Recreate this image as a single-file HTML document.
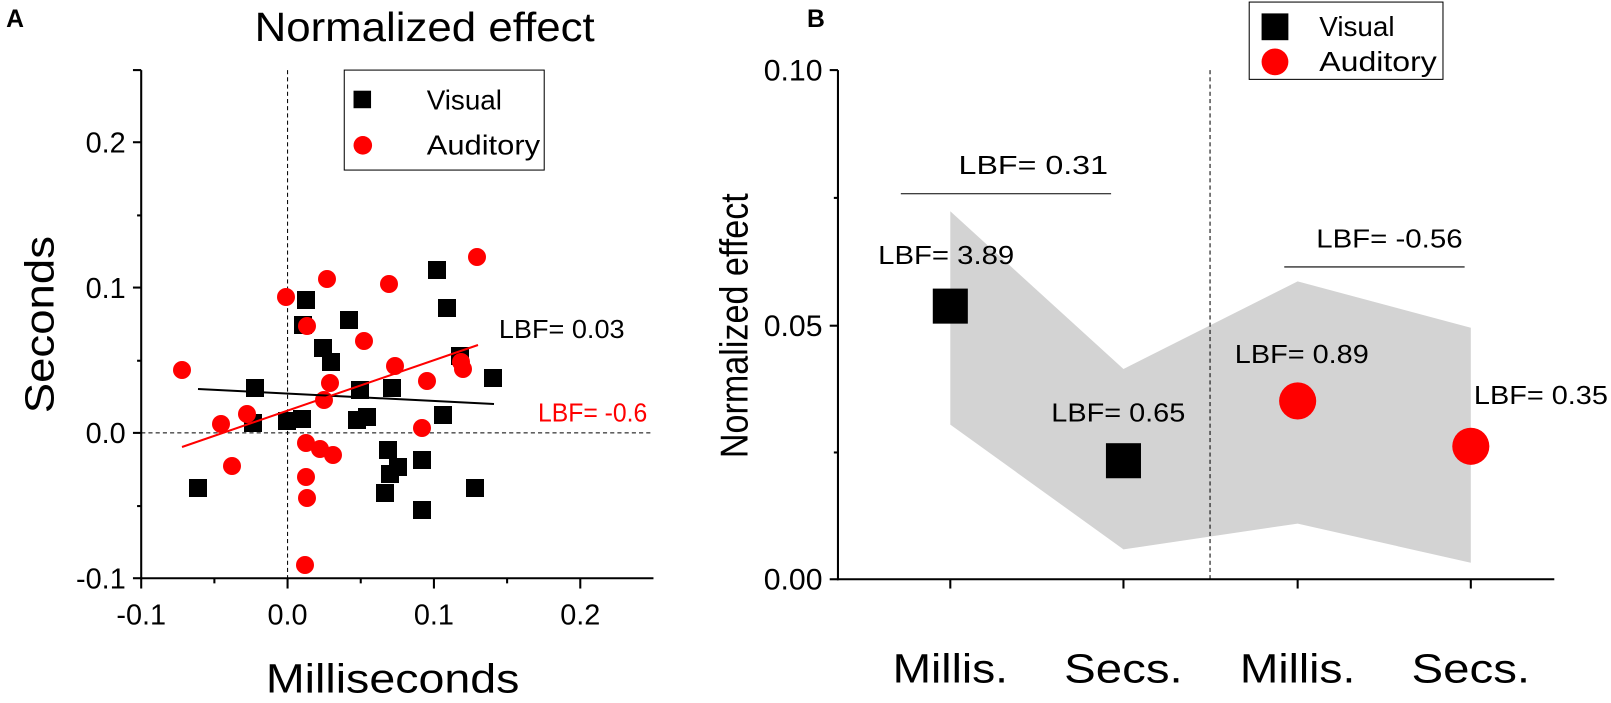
<!DOCTYPE html><html><head><style>body{margin:0;background:#fff}svg{display:block}text{font-family:"Liberation Sans",Arial,sans-serif}</style></head><body>
<svg width="1611" height="703" viewBox="0 0 1611 703">
<g transform="scale(1.0307)">
<text x="6" y="26" font-size="24" font-weight="bold">A</text>
<text x="783" y="26" font-size="24" font-weight="bold">B</text>
<text x="412" y="40" font-size="40" text-anchor="middle" textLength="330" lengthAdjust="spacingAndGlyphs">Normalized effect</text>
<g stroke="#000" stroke-width="2" fill="none">
<line x1="137" y1="68" x2="137" y2="562"/><line x1="136" y1="561" x2="634" y2="561"/>
<line x1="137" y1="68" x2="129" y2="68"/>
<line x1="137" y1="138" x2="129" y2="138"/><line x1="137" y1="279" x2="129" y2="279"/><line x1="137" y1="420" x2="129" y2="420"/><line x1="137" y1="561" x2="129" y2="561"/>
<line x1="137" y1="209" x2="133" y2="209"/><line x1="137" y1="350" x2="133" y2="350"/><line x1="137" y1="491" x2="133" y2="491"/>
<line x1="137" y1="561" x2="137" y2="571"/><line x1="279" y1="561" x2="279" y2="571"/><line x1="421" y1="561" x2="421" y2="571"/><line x1="563" y1="561" x2="563" y2="571"/>
<line x1="208" y1="561" x2="208" y2="566"/><line x1="350" y1="561" x2="350" y2="566"/><line x1="492" y1="561" x2="492" y2="566"/>
</g>
<g stroke="#000" stroke-width="1" stroke-dasharray="4,3"><line x1="279" y1="68" x2="279" y2="561"/><line x1="137" y1="420" x2="634" y2="420"/></g>
<g font-size="28" text-anchor="end"><text x="122" y="148">0.2</text><text x="122" y="289">0.1</text><text x="122" y="430">0.0</text><text x="122" y="571">-0.1</text></g>
<g font-size="28" text-anchor="middle"><text x="137" y="606">-0.1</text><text x="279" y="606">0.0</text><text x="421" y="606">0.1</text><text x="563" y="606">0.2</text></g>
<text x="381" y="672" font-size="40" text-anchor="middle" textLength="246" lengthAdjust="spacingAndGlyphs">Milliseconds</text>
<text transform="translate(52,315) rotate(-90)" font-size="40" text-anchor="middle" textLength="172" lengthAdjust="spacingAndGlyphs">Seconds</text>
<rect x="334" y="68" width="194" height="97" fill="#fff" stroke="#000" stroke-width="1"/>
<rect x="343" y="88" width="17" height="17"/><text x="414" y="106" font-size="27">Visual</text>
<circle cx="352" cy="141" r="9" fill="red"/><text x="414" y="150" font-size="27" textLength="110" lengthAdjust="spacingAndGlyphs">Auditory</text>
<text x="484" y="328" font-size="25" textLength="122" lengthAdjust="spacingAndGlyphs">LBF= 0.03</text>
<text x="522" y="409" font-size="25" fill="red" textLength="106" lengthAdjust="spacingAndGlyphs">LBF= -0.6</text>
<polygon points="922,205 1090,358 1259,273 1427,318 1427,546 1259,508 1090,533 922,412" fill="#d3d3d3"/>
<g stroke="#000" stroke-width="2" fill="none">
<line x1="813" y1="68" x2="813" y2="563"/><line x1="812" y1="562" x2="1508" y2="562"/>
<line x1="813" y1="68" x2="805" y2="68"/><line x1="813" y1="316" x2="805" y2="316"/><line x1="813" y1="562" x2="805" y2="562"/>
<line x1="813" y1="192" x2="809" y2="192"/><line x1="813" y1="439" x2="809" y2="439"/>
<line x1="922" y1="562" x2="922" y2="571"/><line x1="1090" y1="562" x2="1090" y2="571"/><line x1="1259" y1="562" x2="1259" y2="571"/><line x1="1427" y1="562" x2="1427" y2="571"/>
</g>
<line x1="1174" y1="68" x2="1174" y2="562" stroke="#000" stroke-width="1" stroke-dasharray="4,3"/>
<g font-size="29" text-anchor="end"><text x="798" y="78" textLength="57" lengthAdjust="spacingAndGlyphs">0.10</text><text x="798" y="326" textLength="57" lengthAdjust="spacingAndGlyphs">0.05</text><text x="798" y="572" textLength="57" lengthAdjust="spacingAndGlyphs">0.00</text></g>
<g font-size="40" text-anchor="middle"><text x="922" y="662" textLength="112" lengthAdjust="spacingAndGlyphs">Millis.</text><text x="1090" y="662" textLength="115" lengthAdjust="spacingAndGlyphs">Secs.</text><text x="1259" y="662" textLength="112" lengthAdjust="spacingAndGlyphs">Millis.</text><text x="1427" y="662" textLength="115" lengthAdjust="spacingAndGlyphs">Secs.</text></g>
<text transform="translate(725,316) rotate(-90)" font-size="38" text-anchor="middle" textLength="257" lengthAdjust="spacingAndGlyphs">Normalized effect</text>
<line x1="874" y1="188" x2="1078" y2="188" stroke="#000" stroke-width="1"/>
<line x1="1246" y1="259" x2="1421" y2="259" stroke="#000" stroke-width="1"/>
<g font-size="25"><text x="930" y="169" textLength="145" lengthAdjust="spacingAndGlyphs">LBF= 0.31</text><text x="1277" y="240" textLength="142" lengthAdjust="spacingAndGlyphs">LBF= -0.56</text><text x="852" y="256" textLength="132" lengthAdjust="spacingAndGlyphs">LBF= 3.89</text><text x="1020" y="409" textLength="130" lengthAdjust="spacingAndGlyphs">LBF= 0.65</text><text x="1198" y="352" textLength="130" lengthAdjust="spacingAndGlyphs">LBF= 0.89</text><text x="1430" y="392" textLength="130" lengthAdjust="spacingAndGlyphs">LBF= 0.35</text></g>
<rect x="905" y="280" width="34" height="34"/><rect x="1073" y="430" width="34" height="34"/>
<circle cx="1259" cy="389" r="18" fill="red"/><circle cx="1427" cy="433" r="18" fill="red"/>
<rect x="1212" y="2" width="188" height="75" fill="#fff" stroke="#000" stroke-width="1"/>
<rect x="1224" y="13" width="26" height="26"/><text x="1280" y="35" font-size="27">Visual</text>
<circle cx="1237" cy="60" r="13" fill="red"/><text x="1280" y="69" font-size="27" textLength="114" lengthAdjust="spacingAndGlyphs">Auditory</text>
</g>
<g fill="#000">
<rect x="428" y="261" width="18" height="18"/><rect x="297" y="291" width="18" height="18"/><rect x="438" y="299" width="18" height="18"/><rect x="340" y="311" width="18" height="18"/><rect x="294" y="316" width="18" height="18"/><rect x="314" y="339" width="18" height="18"/><rect x="322" y="353" width="18" height="18"/><rect x="451" y="347" width="18" height="18"/><rect x="484" y="369" width="18" height="18"/><rect x="246" y="379" width="18" height="18"/><rect x="351" y="381" width="18" height="18"/><rect x="383" y="379" width="18" height="18"/><rect x="434" y="406" width="18" height="18"/><rect x="244" y="414" width="18" height="18"/><rect x="278" y="412" width="18" height="18"/><rect x="293" y="410" width="18" height="18"/><rect x="348" y="411" width="18" height="18"/><rect x="358" y="408" width="18" height="18"/><rect x="379" y="441" width="18" height="18"/><rect x="389" y="458" width="18" height="18"/><rect x="381" y="465" width="18" height="18"/><rect x="413" y="451" width="18" height="18"/><rect x="376" y="484" width="18" height="18"/><rect x="466" y="479" width="18" height="18"/><rect x="189" y="479" width="18" height="18"/><rect x="413" y="501" width="18" height="18"/>
</g>
<g fill="red">
<circle cx="477" cy="257" r="9"/><circle cx="327" cy="279" r="9"/><circle cx="389" cy="284" r="9"/><circle cx="286" cy="297" r="9"/><circle cx="307" cy="326" r="9"/><circle cx="364" cy="341" r="9"/><circle cx="182" cy="370" r="9"/><circle cx="395" cy="366" r="9"/><circle cx="461" cy="362" r="9"/><circle cx="463" cy="369" r="9"/><circle cx="427" cy="381" r="9"/><circle cx="330" cy="383" r="9"/><circle cx="324" cy="400" r="9"/><circle cx="247" cy="414" r="9"/><circle cx="221" cy="424" r="9"/><circle cx="422" cy="428" r="9"/><circle cx="306" cy="443" r="9"/><circle cx="320" cy="449" r="9"/><circle cx="333" cy="455" r="9"/><circle cx="232" cy="466" r="9"/><circle cx="306" cy="477" r="9"/><circle cx="307" cy="498" r="9"/><circle cx="305" cy="565" r="9"/>
</g>
<line x1="198" y1="389" x2="494" y2="404" stroke="#000" stroke-width="2"/>
<line x1="182" y1="447" x2="478" y2="345" stroke="red" stroke-width="2"/>
</svg></body></html>
